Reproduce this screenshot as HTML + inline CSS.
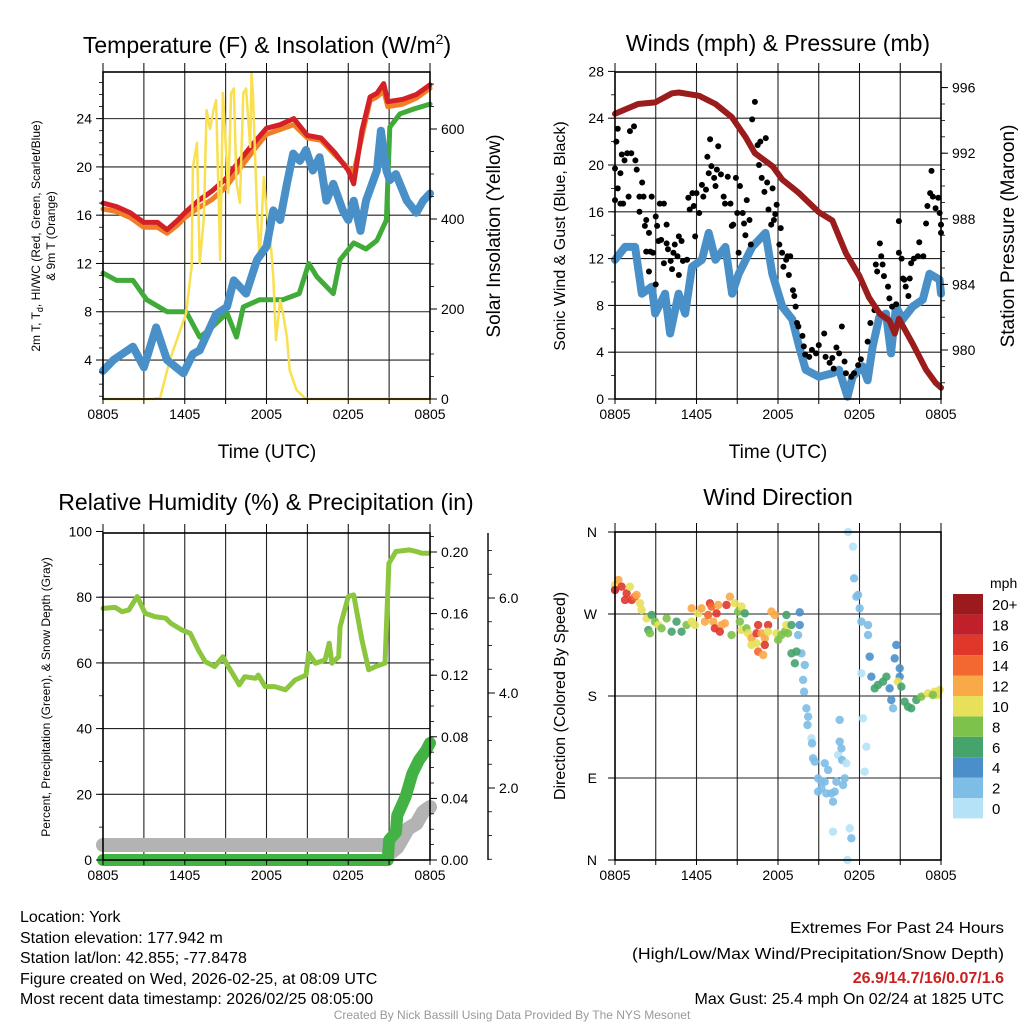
<!DOCTYPE html>
<html><head><meta charset="utf-8"><style>
body{margin:0;background:#fff;}
svg{display:block;font-family:"Liberation Sans",Arial,sans-serif;}
</style></head><body>
<svg id="c" width="1024" height="1024" viewBox="0 0 1024 1024" xmlns="http://www.w3.org/2000/svg">
<rect width="1024" height="1024" fill="#fff"/>
<g id="grids"></g>
<g id="marks"></g>
<g id="frames"></g>
<g id="labels"></g>
<text x="267" y="53" font-size="23" text-anchor="middle">Temperature (F) &amp; Insolation (W/m<tspan dy="-9" font-size="14">2</tspan><tspan dy="9">)</tspan></text>
<text x="778" y="51" font-size="23" text-anchor="middle">Winds (mph) &amp; Pressure (mb)</text>
<text x="266" y="510" font-size="23" text-anchor="middle">Relative Humidity (%) &amp; Precipitation (in)</text>
<text x="778" y="505" font-size="23" text-anchor="middle">Wind Direction</text>
<text x="267" y="458" font-size="19" text-anchor="middle">Time (UTC)</text>
<text x="778" y="458" font-size="19" text-anchor="middle">Time (UTC)</text>
<text transform="translate(40,236) rotate(-90)" font-size="12" text-anchor="middle">2m T, T<tspan dy="3" font-size="9">d</tspan><tspan dy="-3">, HI/WC (Red, Green, Scarlet/Blue)</tspan></text>
<text transform="translate(55,236) rotate(-90)" font-size="12" text-anchor="middle">&amp; 9m T (Orange)</text>
<text transform="translate(500,236) rotate(-90)" font-size="19" text-anchor="middle">Solar Insolation (Yellow)</text>
<text transform="translate(565,236) rotate(-90)" font-size="16" text-anchor="middle">Sonic Wind &amp; Gust (Blue, Black)</text>
<text transform="translate(1014,236) rotate(-90)" font-size="19" text-anchor="middle">Station Pressure (Maroon)</text>
<text transform="translate(50,697) rotate(-90)" font-size="12" text-anchor="middle">Percent, Precipitation (Green), &amp; Snow Depth (Gray)</text>
<text transform="translate(565,696) rotate(-90)" font-size="16" text-anchor="middle">Direction (Colored By Speed)</text>
<g font-size="16">
<text x="20" y="922">Location: York</text>
<text x="20" y="943">Station elevation: 177.942 m</text>
<text x="20" y="963">Station lat/lon: 42.855; -77.8478</text>
<text x="20" y="984">Figure created on Wed, 2026-02-25, at 08:09 UTC</text>
<text x="20" y="1004">Most recent data timestamp: 2026/02/25 08:05:00</text>
</g>
<g font-size="16">
<text x="790" y="933" textLength="214" lengthAdjust="spacingAndGlyphs">Extremes For Past 24 Hours</text>
<text x="632" y="959" textLength="372" lengthAdjust="spacingAndGlyphs">(High/Low/Max Wind/Precipitation/Snow Depth)</text>
<text x="1004" y="983" text-anchor="end" fill="#cc1f1f" font-weight="bold">26.9/14.7/16/0.07/1.6</text>
<text x="1004" y="1004" text-anchor="end">Max Gust: 25.4 mph On 02/24 at 1825 UTC</text>
</g>
<text x="512" y="1019" font-size="12" fill="#999" text-anchor="middle">Created By Nick Bassill Using Data Provided By The NYS Mesonet</text>
</svg>
<script>
// ---------- Panel 1: temperature ----------
const redT=[0,1,2,3,4,4.7,5.5,6,7,8,9,10,11,12,13,14,15,16,17,18,18.4,19,19.6,20.1,20.6,20.9,22,23,24];
const redV=[17.0,16.7,16.2,15.4,15.4,14.8,15.6,16.2,17.2,18.0,19.0,20.5,21.9,23.2,23.5,24.0,22.6,22.4,21.2,19.7,18.6,23.0,25.8,26.1,26.9,25.4,25.6,26.0,26.8];
const orangeV=[16.5,16.3,15.8,15.0,15.0,14.5,15.2,15.8,16.6,17.3,18.3,19.8,21.3,22.7,23.1,23.5,22.4,22.2,21.0,19.9,19.5,22.5,25.5,25.8,26.3,25.0,25.2,25.7,26.5];
const greenT=[0,1,2.2,3.2,4.7,6.1,7.1,7.8,9.1,9.8,10.3,11.5,13.2,14.4,15.1,15.7,16.9,17.4,18.4,19.3,20.1,20.8,21.05,21.8,22.8,24];
const greenV=[11.2,10.6,10.6,9.0,8.0,8.0,5.9,6.5,7.9,5.9,8.4,9.0,9.0,9.5,12.0,10.9,9.5,12.3,13.7,13.2,13.9,15.6,23.3,24.4,24.8,25.2];
const blueT=[0,0.76,2.2,3.0,3.9,4.7,5.9,6.6,7.1,8.3,9.1,9.6,10.5,11.3,12.0,12.5,13.0,13.5,13.96,14.45,14.9,15.4,15.9,16.4,16.9,17.6,18.0,18.4,18.9,19.3,20.1,20.4,20.8,21.05,21.5,22.3,23.0,23.5,24];
const blueV=[3.1,4.0,5.1,3.4,6.7,4.0,2.9,4.5,4.8,7.8,8.4,10.6,9.5,12.3,13.4,16.4,15.6,18.6,21.1,20.5,21.4,19.7,20.8,17.2,18.6,16.4,15.6,17.2,14.7,17.2,19.7,23.0,19.7,18.9,19.4,17.2,16.2,17.2,17.8];
const solarT=[0,3.7,4.2,4.9,5.6,6.1,6.5,6.6,6.9,7.0,7.1,7.4,7.6,7.85,8.1,8.3,8.6,8.8,9.2,9.4,9.6,9.8,10.05,10.3,10.5,10.8,10.9,11.0,11.3,11.5,11.8,12.0,12.25,12.5,12.7,13.0,13.2,13.5,13.7,14.2,14.9,24];
const solarV=[0,0,3,87,147,191,293,516,569,430,302,400,642,600,640,664,309,680,458,680,690,480,436,680,690,560,724,680,420,309,493,420,369,271,131,220,191,138,64,20,0,0];
const tempTicks=[4,8,12,16,20,24];
const solarTicks=[0,200,400,600];
const timeLabels=["0805","1405","2005","0205","0805"];
// ---------- Panel 2: winds ----------
const windT=[0,0.74,1.48,1.97,2.71,2.96,3.69,4.06,4.68,5.17,5.67,6.4,6.9,7.39,8.13,8.62,9.11,10.1,11.08,11.58,12.32,13.05,13.55,14.04,15.02,16.01,16.5,17.12,17.49,18.23,18.6,18.97,19.46,19.95,20.32,20.69,21.18,21.92,22.66,23.15,23.9,24];
const windV=[11.9,13.0,13.0,9.0,9.6,7.3,9.0,5.6,9.0,7.3,11.3,11.9,14.2,11.9,13.0,9.0,10.7,13.0,14.2,10.7,7.9,6.8,4.5,2.5,1.9,2.2,2.5,0.2,1.9,2.8,1.6,4.5,7.0,7.3,3.9,7.9,6.8,7.9,8.5,10.7,10.2,9.0];
const gustT=[0.1,0.2,0.0,0.4,0.2,0.0,0.4,0.6,0.5,0.7,0.9,1.1,1.2,1.4,1.5,1.0,1.6,2.0,1.8,2.1,1.8,2.2,2.3,2.5,2.7,2.3,2.6,2.8,3.0,3.1,3.2,2.5,3.0,3.3,3.6,3.4,3.6,3.8,3.8,3.9,4.1,4.2,4.4,4.3,4.6,4.7,4.7,4.9,5.0,5.3,5.4,5.5,5.7,5.8,5.9,6.0,6.2,6.4,6.5,6.7,6.8,6.9,7.0,7.1,7.3,7.4,7.5,7.6,7.8,8.0,8.1,8.3,8.5,8.6,8.7,8.9,9.0,9.1,9.2,9.4,9.5,9.6,9.7,9.9,10.0,10.1,10.3,10.5,10.6,10.7,10.8,11.1,11.0,11.2,11.3,11.5,11.6,11.7,11.8,11.9,12.1,12.2,12.3,12.4,12.6,12.7,12.8,12.9,13.1,13.2,13.3,13.4,13.5,13.8,13.9,14.0,14.3,14.5,14.8,15.0,15.4,15.5,15.8,16.0,16.1,16.3,16.5,16.7,16.9,17.0,17.4,17.6,17.9,18.1,18.6,18.8,19.1,19.2,19.3,19.5,19.6,19.7,19.8,20.1,20.2,20.4,20.7,20.9,20.9,21.1,21.2,21.3,21.4,21.7,21.6,21.8,22.0,22.3,22.4,22.7,22.9,23.0,23.2,23.3,23.4,23.6,23.8,23.9,24.0,24.0];
const gustV=[22.0,23.1,19.7,19.3,18.0,17.0,16.7,16.7,20.9,20.4,21.0,22.9,21.0,23.3,20.4,17.3,19.6,18.5,17.3,17.3,16.0,14.8,15.3,14.2,17.3,12.6,12.6,12.5,15.6,14.8,13.5,10.9,9.8,16.7,16.7,13.6,11.6,14.9,13.3,12.8,11.8,11.1,13.2,12.5,12.2,13.9,10.6,13.5,11.8,11.9,17.2,16.2,17.6,16.5,13.9,17.6,15.9,18.3,17.3,17.9,20.7,19.3,22.2,19.9,18.9,18.2,19.6,21.6,19.2,17.3,16.7,19.0,16.7,14.8,14.9,18.9,15.9,12.5,18.2,15.9,15.0,14.0,17.0,15.3,13.2,23.9,25.4,21.7,20.0,22.0,18.9,22.3,17.7,18.5,16.2,14.9,18.0,15.3,15.8,16.6,13.2,14.6,12.5,11.3,11.9,12.2,10.6,12.2,9.3,8.8,7.9,6.5,6.2,5.4,4.5,3.8,3.6,4.2,3.9,4.6,5.6,3.6,3.1,3.5,2.6,4.4,3.9,6.2,3.2,2.2,1.9,2.2,2.9,3.4,4.9,6.5,7.6,11.5,10.9,13.3,12.2,11.5,10.5,9.6,8.6,7.9,8.1,12.5,15.2,12.0,10.3,10.2,9.6,10.3,8.8,11.6,12.0,12.2,13.4,12.2,15.0,16.5,17.6,19.5,17.3,16.3,17.2,15.9,14.9,14.2];
const presT=[0,1.7,2.96,4.2,4.7,6.2,7.4,8.6,9.6,10.3,11.6,12.3,13.5,15.0,16.0,17.0,18.0,18.7,19.5,20.2,20.6,20.9,21.9,22.9,23.6,24];
const presV=[994.4,995.0,995.1,995.65,995.7,995.5,995.0,994.2,993.0,992.0,991.2,990.4,989.6,988.4,987.9,985.9,984.5,983.2,982.2,981.8,981.0,981.9,980.4,978.8,978.0,977.7];
const windTicks=[0,4,8,12,16,20,24,28];
const presTicks=[980,984,988,992,996];
// ---------- Panel 3: humidity ----------
const rhT=[0,0.9,1.4,1.9,2.5,3.1,3.8,4.6,5.0,5.8,6.4,7.0,7.5,8.2,8.8,9.2,10.0,10.4,11.2,11.4,11.9,12.6,13.4,14.1,14.9,15.1,15.6,16.3,16.6,16.8,17.3,17.4,18.0,18.4,19.0,19.5,20.0,20.7,20.98,21.5,22.5,23.0,23.4,23.9];
const rhV=[76.6,76.9,75.6,76.1,80.2,75.1,74.1,73.6,72.0,70.0,69.0,63.9,60.4,58.9,61.9,58.9,53.3,55.8,55.3,56.3,52.8,52.8,51.8,54.8,56.3,62.9,59.9,60.9,66.0,59.9,61.9,71.0,80.2,80.7,67.0,57.9,58.9,59.9,90.3,93.9,94.4,93.9,93.4,93.4];
const precipT=[0,20.9,21.0,21.5,21.6,22.2,22.7,23.2,23.7,24];
const precipV=[0,0,0.013,0.018,0.029,0.041,0.056,0.065,0.071,0.076];
const snowT=[0,20.6,21.2,21.6,22.4,23.0,23.5,24];
const snowV=[0.8,0.8,0.65,0.75,1.15,1.25,1.5,1.6];
const rhTicks=[0,20,40,60,80,100];
const precipTicks=[0,0.04,0.08,0.12,0.16,0.20];
const snowTicks=[2,4,6];
// ---------- Panel 4: direction ----------
const dirT=[0,0.25,0,0.49,0.86,1.1,0.74,1.23,1.47,1.59,1.84,1.96,2.33,2.7,2.45,2.57,2.94,3.19,3.43,3.8,4.17,4.53,4.9,5.27,5.64,5.88,5.64,6.13,6.37,6.62,6.86,6.99,7.11,7.48,7.6,7.23,7.35,7.84,7.72,8.09,8.21,8.46,8.58,8.82,9.07,9.31,9.56,9.19,9.31,9.68,9.8,10.05,10.42,10.54,10.78,11.03,11.27,11.52,11.76,10.05,10.54,10.91,10.42,11.03,11.27,11.89,12.01,12.25,12.5,12.62,12.74,12.62,12.99,13.6,13.6,13.48,13.73,12.99,13.36,13.24,13.97,13.85,13.92,14.09,14.22,14.17,14.46,14.51,14.58,14.71,14.95,15.2,15.44,15.69,15.44,14.95,15.2,15.56,15.93,16.18,16.05,16.3,16.42,16.54,16.67,16.54,16.72,17.03,16.79,16.91,16.05,17.28,17.4,17.11,17.16,17.52,17.6,17.77,17.89,18.01,18.14,18.63,18.63,18.75,18.14,18.26,18.5,18.38,18.87,19.12,19.36,19.73,19.98,20.22,20.34,20.47,20.71,20.59,20.96,20.96,20.83,21.08,21.32,21.57,21.81,22.18,22.55,23.04,23.53,23.9,23.77,23.4];
const dirV=[301.8,307.3,296.3,300,292.7,300,285.4,285.4,289,290.9,281.7,274.4,265.2,268.9,252.4,248.8,261.6,257.9,254.3,265.2,250.6,261.6,250.6,257.9,261.6,257.9,276.2,270.7,276.2,261.6,268.9,281.7,278.1,270.7,279.9,261.6,254.3,257.9,250.6,259.8,279.9,289,246.9,281.7,272.6,278.1,270.7,261.6,252.4,254.3,248.8,243.3,248.8,257.9,248.8,243.3,257.9,272.6,268.9,236,228.7,225,237.8,236,250.6,248.8,241.5,246.9,250.6,257.9,248.8,268.9,257.9,271.8,257.9,246.9,226.8,226.8,228.7,215.9,214,197.6,184.7,166.5,157.3,148.2,133.5,128,111.6,107.9,89.6,85.9,106.1,98.8,85.9,75,78.6,73.1,73.1,75,64,85.9,115.2,129.9,122.5,153.7,109.7,106.1,82.3,89.6,31.1,34.7,23.8,0,360,343.9,309.2,289,290.9,276.2,261.6,257.9,246.9,223.2,204.9,155.5,124.4,96.9,201.2,188.4,192.1,195.7,201.2,188.4,175.6,166.5,236,221.3,210.4,201.2,195.7,190.2,173.8,168.3,166.5,175.6,179.3,182.9,184.7,186.6,181.1,181.1];
const dirSpd=[10,12,18,16,16,10,16,16,14,12,10,10,10,6,6,8,8,10,8,8,6,6,6,8,10,10,12,10,12,12,14,16,14,16,12,12,16,12,16,12,16,12,8,10,8,10,6,8,10,8,10,12,16,16,12,12,16,12,12,10,14,12,10,16,10,10,8,8,8,10,8,6,6,4,4,2,2,6,6,6,2,2,2,2,2,2,0,2,2,2,2,2,2,2,2,2,2,2,2,2,2,2,0,2,2,2,2,0,2,2,0,0,2,0,0,0,2,2,2,2,2,2,2,4,0,0,0,0,4,6,6,6,6,4,4,2,4,4,4,4,10,6,6,6,6,6,8,10,10,10,10,8];
const dirLabels=["N","E","S","W","N"];
const spdBins=["0","2","4","6","8","10","12","14","16","18","20+"];
const spdColors=["#b6e2f7","#7dbde6","#4a8fca","#45a36c","#7dc24a","#e8e05a","#f9a947","#f26830","#e0372b","#c0202a","#9b1a1e"];

const NS="http://www.w3.org/2000/svg";
function el(parent,tag,attrs){const e=document.createElementNS(NS,tag);for(const k in attrs)e.setAttribute(k,attrs[k]);document.getElementById(parent).appendChild(e);return e;}
function txt(parent,x,y,s,size,anchor,name){const e=el(parent,"text",{x:x,y:y,"font-size":size,"text-anchor":anchor});e.textContent=s;


return e;}
const P1={x0:103,x1:430,top:72,bot:399}, P2={x0:615,x1:941,top:72,bot:399}, P3={x0:103,x1:430,top:533,bot:860}, P4={x0:615,x1:941,top:532,bot:860};
const tx=(P,t)=>P.x0+(P.x1-P.x0)*t/24;
const yTemp=v=>408.3-12.07*v, ySolar=w=>399-0.45*w;
const yWind=v=>399-11.7*v, yPres=p=>350-(p-980)*16.4;
const yRH=r=>860-3.285*r, yPrecip=p=>860-1540*p, ySnow=s=>883-47.5*s;
const yDir=d=>860-d*328/360;
function pathD(P,T,V,fy){return T.map((t,i)=>(i?"L":"M")+tx(P,t).toFixed(1)+","+fy(V[i]).toFixed(1)).join("");}
function series(P,T,V,fy,color,w,name){const e=el("marks","path",{d:pathD(P,T,V,fy),fill:"none",stroke:color,"stroke-width":w,"stroke-linecap":"round","stroke-linejoin":"round"});

}

function frame(P,name){const e=el("frames","rect",{x:P.x0,y:P.top,width:P.x1-P.x0,height:P.bot-P.top,fill:"none",stroke:"#000","stroke-width":1.6});


for(let h=3;h<24;h+=3){const g=el("grids","line",{x1:tx(P,h),x2:tx(P,h),y1:P.top,y2:P.bot,stroke:"#222","stroke-width":1.1});

}
for(let h=0;h<=24;h+=3){const k=el("frames","line",{x1:tx(P,h),x2:tx(P,h),y1:P.top-9,y2:P.top,stroke:"#000","stroke-width":1});


const kb=el("frames","line",{x1:tx(P,h),x2:tx(P,h),y1:P.bot,y2:P.bot+5,stroke:"#000","stroke-width":1});

}
timeLabels.forEach((s,i)=>txt("labels",tx(P,i*6),P.bot+20,s,14,"middle","x-tick-label"));}
function hgrid(P,ticks,fy){ticks.forEach(v=>{const y=fy(v);if(Math.abs(y-P.top)<3||Math.abs(y-P.bot)<3)return;const g=el("grids","line",{x1:P.x0,x2:P.x1,y1:y,y2:y,stroke:"#222","stroke-width":1.1});

});}
function yticks(x,dir,ticks,fy,fmt,name){ticks.forEach(v=>{const y=fy(v);const k=el("frames","line",{x1:x,x2:x+dir*7,y1:y,y2:y,stroke:"#000","stroke-width":1});


txt("labels",x+dir*11,y+5,fmt(v),14,dir<0?"end":"start",name+"-label");});}
function minor(x,dir,y0,y1,step){for(let y=y0;y>=y1-0.5;y-=step){const k=el("frames","line",{x1:x,x2:x+dir*4,y1:y,y2:y,stroke:"#000","stroke-width":0.8});

}}

// Panel 1
frame(P1,"temp-plot-frame");hgrid(P1,tempTicks,yTemp);
yticks(P1.x0,-1,tempTicks,yTemp,v=>String(v),"temp-y");
yticks(P1.x1,1,solarTicks,ySolar,v=>String(v),"solar-y");
minor(P1.x0,-1,yTemp(1),P1.top,12.07);minor(P1.x1,1,ySolar(50),P1.top,22.5);
series(P1,redT,orangeV,yTemp,"#f07e26",5,"orange-9m-temp-line");
series(P1,redT,redV,yTemp,"#d42027",5,"red-2m-temp-line");
series(P1,greenT,greenV,yTemp,"#41ab3a",5,"green-dewpoint-line");
series(P1,solarT,solarV,ySolar,"#f8e050",2.5,"yellow-solar-line");
series(P1,blueT,blueV,yTemp,"#4a90c8",8,"blue-windchill-line");
// Panel 2
frame(P2,"wind-plot-frame");hgrid(P2,windTicks,yWind);
yticks(P2.x0,-1,windTicks,yWind,v=>String(v),"wind-y");
yticks(P2.x1,1,presTicks,yPres,v=>String(v),"pressure-y");
minor(P2.x0,-1,yWind(2),P2.top,23.4);minor(P2.x1,1,yPres(978),P2.top,16.4);
series(P2,windT,windV,yWind,"#4a90c8",8,"sonic-wind-line");
gustT.forEach((t,i)=>{const c=el("marks","circle",{cx:tx(P2,t),cy:yWind(gustV[i]),r:3,fill:"#000"});

});
series(P2,presT,presV,yPres,"#9b1c1c",6,"pressure-line");
// Panel 3
frame(P3,"rh-plot-frame");hgrid(P3,rhTicks,yRH);
yticks(P3.x0,-1,rhTicks,yRH,v=>String(v),"rh-y");
yticks(P3.x1,1,precipTicks,yPrecip,v=>v.toFixed(2),"precip-y");
minor(P3.x0,-1,yRH(10),P3.top,32.85);minor(P3.x1,1,yPrecip(0.01),P3.top,15.4);
const sax=el("frames","line",{x1:488,x2:488,y1:P3.top,y2:P3.bot,stroke:"#000","stroke-width":1.4});


yticks(488,1,snowTicks,ySnow,v=>v.toFixed(1),"snow-y");
minor(488,1,ySnow(0.5),P3.top,23.75);
series(P3,snowT,snowV,ySnow,"#b3b3b3",14,"snow-depth-line");
series(P3,precipT,precipV,yPrecip,"#43b244",12,"precip-line");
series(P3,rhT,rhV,yRH,"#8cc63f",5,"rh-line");
// Panel 4
frame(P4,"direction-plot-frame");
const dirVals=[0,90,180,270,360];
hgrid(P4,dirVals,yDir);
dirVals.forEach((d,i)=>{const y=yDir(d);const k=el("frames","line",{x1:P4.x0,x2:P4.x0-7,y1:y,y2:y,stroke:"#000","stroke-width":1});


txt("labels",P4.x0-18,y+5,dirLabels[i],14,"end","direction-label");});
dirT.forEach((t,i)=>{const c=el("marks","circle",{cx:tx(P4,t),cy:yDir(dirV[i]),r:4.2,fill:spdColors[Math.min(10,Math.floor(dirSpd[i]/2))],"fill-opacity":0.9});

});
// colorbar
txt("labels",990,588,"mph",14,"start","colorbar-title");
spdBins.forEach((s,i)=>{const y=594+(10-i)*20.4;const r=el("marks","rect",{x:953,y:y,width:30,height:20.4,fill:spdColors[i]});


txt("labels",992,y+16,s,15,"start","colorbar-label");});
</script>
</body></html>
